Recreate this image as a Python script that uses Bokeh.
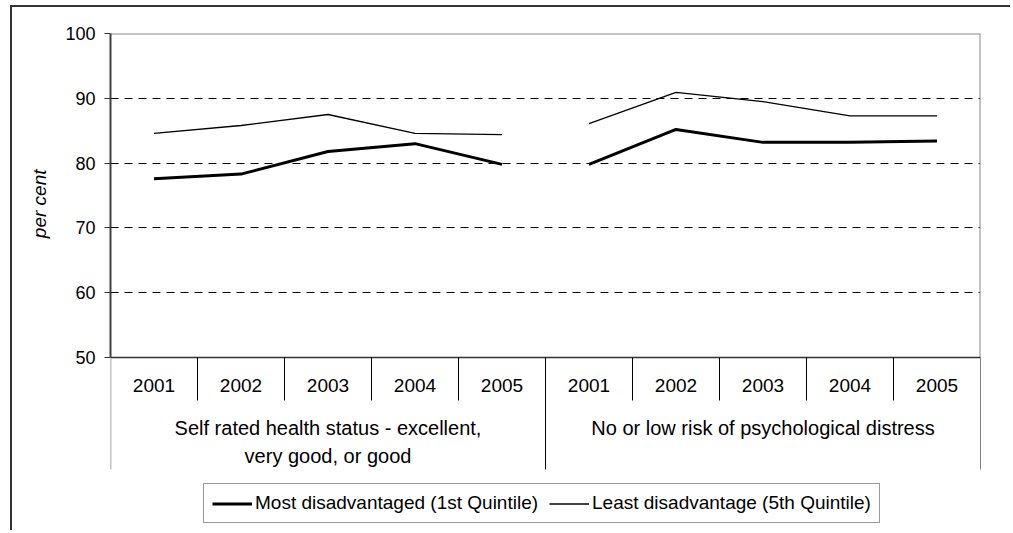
from bokeh.plotting import figure
from bokeh.models import Range1d, FixedTicker, Legend, LegendItem, Title
from bokeh.core.properties import value
from bokeh.embed import file_html
from bokeh.resources import INLINE

# ---- data ----
years = ["2001", "2002", "2003", "2004", "2005"]
group_labels = [
    ["Self rated health status - excellent,", "very good, or good"],
    ["No or low risk of psychological distress"],
]
most_self_rated = [77.6, 78.3, 81.8, 83.0, 79.8]
most_distress = [79.8, 85.2, 83.2, 83.2, 83.4]
least_self_rated = [84.6, 85.8, 87.5, 84.6, 84.4]
least_distress = [86.1, 90.9, 89.5, 87.3, 87.3]
series_names = ["Most disadvantaged (1st Quintile)", "Least disadvantage (5th Quintile)"]
y_ticks = [50, 60, 70, 80, 90, 100]
grid_ticks = [60, 70, 80, 90]
y_title = "per cent"

FONT = "Liberation Sans"

# ---- geometry (page pixels of the reference) ----
W, H = 1000, 525
CANVAS_X, CANVAS_Y = 12, 7
FRAME_L, FRAME_T, FRAME_R = 110, 33, 980
FRAME_B = CANVAS_Y + H
Y_TOP, Y_BOT_PX, Y_BOT = 100, 357, 50
ppu = (Y_BOT_PX - FRAME_T) / (Y_TOP - Y_BOT)


def py(page_y):
    return Y_TOP - (page_y - FRAME_T) / ppu


n_groups = len(group_labels)
n_years = len(years)
n_cat = n_groups * n_years

p = figure(
    width=W, height=H,
    output_backend="svg", toolbar_location=None,
    x_range=Range1d(0, n_cat), y_range=Range1d(py(FRAME_B), Y_TOP),
    x_axis_location=None,
    min_border_left=FRAME_L - CANVAS_X, min_border_top=FRAME_T - CANVAS_Y,
    min_border_right=CANVAS_X + W - FRAME_R, min_border_bottom=0,
    styles={"border-top": "2px solid #333333", "border-left": "2px solid #333333",
            "margin-left": "10px", "margin-top": "5px"},
)
p.outline_line_color = None
p.background_fill_color = "white"
p.border_fill_color = "white"

# y axis
ax = p.yaxis[0]
ax.ticker = FixedTicker(ticks=y_ticks)
ax.bounds = (Y_BOT, Y_TOP)
ax.axis_line_color = "#404040"
ax.axis_line_width = 2
ax.major_tick_out = 6
ax.major_tick_in = 0
ax.major_tick_line_color = "#333333"
ax.minor_tick_line_color = None
ax.major_label_text_font = FONT
ax.major_label_text_font_size = "18px"
ax.major_label_text_color = "black"
ax.major_label_standoff = 9

# y-axis title, placed alongside the 50-100 scale
p.add_layout(Title(
    text=y_title, align="right", offset=169 - FRAME_T, standoff=25,
    text_font=FONT, text_font_style="italic", text_font_size="19px",
    text_color="black",
), "left")

# grid
p.xgrid.visible = False
p.ygrid.ticker = FixedTicker(ticks=grid_ticks)
p.ygrid.grid_line_color = "black"
p.ygrid.grid_line_dash = "8 6"
p.ygrid.grid_line_width = 1

# plot area borders
p.segment(x0=[0], y0=[Y_TOP], x1=[n_cat], y1=[Y_TOP], line_color="#888888", line_width=2)
p.segment(x0=[n_cat], y0=[Y_BOT], x1=[n_cat], y1=[Y_TOP], line_color="#888888", line_width=2)
p.segment(x0=[0], y0=[Y_BOT], x1=[n_cat], y1=[Y_BOT], line_color="#333333", line_width=1.5)

# category separators
sep_year_x = [g * n_years + i for g in range(n_groups) for i in range(1, n_years)]
p.segment(x0=sep_year_x, y0=[Y_BOT] * len(sep_year_x), x1=sep_year_x,
          y1=[py(400)] * len(sep_year_x), line_color="black", line_width=1)
sep_grp_x = [g * n_years for g in range(1, n_groups + 1)]
p.segment(x0=sep_grp_x, y0=[Y_BOT] * len(sep_grp_x), x1=sep_grp_x,
          y1=[py(469)] * len(sep_grp_x), line_color="black", line_width=1)
p.segment(x0=[0], y0=[Y_BOT], x1=[0], y1=[py(469)], line_color="#888888", line_width=1.5)

# year labels
yx = [g * n_years + i + 0.5 for g in range(n_groups) for i in range(n_years)]
p.text(x=yx, y=[py(385)] * len(yx), text=years * n_groups,
       text_font=value(FONT), text_font_size="19px", text_align="center",
       text_baseline="middle", text_color="black")

# group labels
gx, gy, gt = [], [], []
for g, lines in enumerate(group_labels):
    for k, t in enumerate(lines):
        gx.append(g * n_years + n_years / 2)
        gy.append(py(427 + 28 * k))
        gt.append(t)
p.text(x=gx, y=gy, text=gt, text_font=value(FONT), text_font_size="20px",
       text_align="center", text_baseline="middle", text_color="black")

# series
def with_break(a, b):
    return list(a) + [float("nan")] + list(b)

xs = with_break([i + 0.5 for i in range(n_years)], [n_years + i + 0.5 for i in range(n_years)])
r_most = p.line(xs, with_break(most_self_rated, most_distress), line_color="black", line_width=3)
r_least = p.line(xs, with_break(least_self_rated, least_distress), line_color="black", line_width=1.3)

legend = Legend(
    items=[LegendItem(label=series_names[0], renderers=[r_most]),
           LegendItem(label=series_names[1], renderers=[r_least])],
    location=(203 - FRAME_L, FRAME_B - 523),
    orientation="horizontal",
    border_line_color="#333333", border_line_width=1,
    background_fill_color="white", background_fill_alpha=1,
    label_text_font=FONT, label_text_font_size="19px", label_text_color="black",
    glyph_width=40, glyph_height=21, label_height=21, label_standoff=3,
    spacing=11, padding=8, margin=0,
)
p.add_layout(legend)

open("out.html", "w").write(file_html(p, INLINE))
